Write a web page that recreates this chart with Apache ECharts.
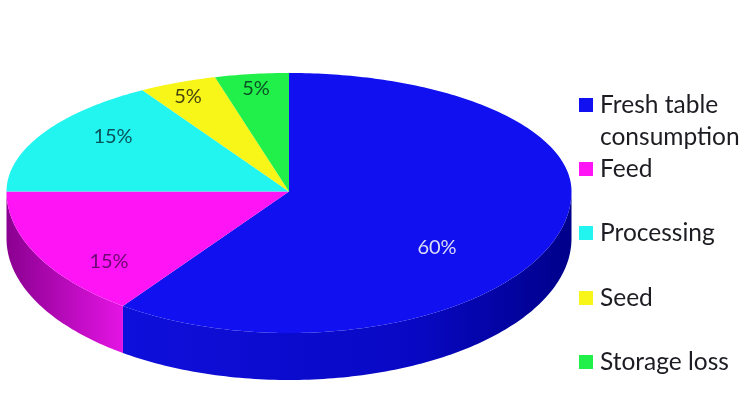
<!DOCTYPE html>
<html>
<head>
<meta charset="utf-8">
<style>html,body{margin:0;padding:0;background:#fff}#c{width:748px;height:420px}</style>
<script src="https://cdn.jsdelivr.net/npm/echarts@6/dist/echarts.min.js"></script>
</head>
<body>
<div id="c"></div>
<script>
const categories = ['Fresh table\nconsumption', 'Feed', 'Processing', 'Seed', 'Storage loss'];
const shares = [60, 15, 15, 5, 5];

const colors = ['#1010f0', '#ff14f5', '#22f5ef', '#f8f518', '#22f04a'];
const labelColors = ['#dcdcf6', '#6a0a72', '#0a525a', '#47470f', '#0a5224'];
const labelSpots = [[437, 248], [109, 262], [113, 137], [188, 97], [256, 89]];
const wallStops = [
  [[0, '#0f0fdc'], [0.65, '#0808c4'], [1, '#00008a']],
  [[0, '#8a0090'], [1, '#e414e4']],
  null, null, null
];
const legendCentres = [105, 169, 233, 298, 362];

const CX = 289, CY = 191.5, RX = 282.5, RY_UP = 118.5, RY_DOWN = 141.5, DEPTH = 47, FORESHORTEN = 0.835;
const total = shares.reduce((a, b) => a + b, 0);

function rimPoint(deg, drop) {
  const t = deg * Math.PI / 180;
  const c = Math.cos(t);
  const phi = c > 0 ? Math.atan2(FORESHORTEN * Math.sin(t), c) : t;
  const cp = Math.cos(phi);
  return [CX + RX * Math.sin(phi), CY - (cp > 0 ? RY_UP : RY_DOWN) * cp + drop];
}
function arc(a, b, drop) {
  const out = [];
  const n = Math.max(2, Math.ceil(Math.abs(b - a)));
  for (let i = 0; i <= n; i++) out.push(rimPoint(a + (b - a) * i / n, drop));
  return out;
}
function renderSlice(index) {
  return function (params, api) {
    const before = shares.slice(0, index).reduce((a, b) => a + b, 0);
    const start = before / total * 360;
    const end = start + api.value(0) / total * 360;
    const children = [];
    const wallFrom = Math.max(start, 90), wallTo = Math.min(end, 270);
    if (wallTo > wallFrom && wallStops[index]) {
      const top = arc(wallFrom, wallTo, 0);
      const bottom = arc(wallTo, wallFrom, DEPTH);
      children.push({
        type: 'polygon', silent: true,
        shape: { points: top.concat(bottom) },
        style: {
          fill: new echarts.graphic.LinearGradient(0, 0, 1, 0,
            wallStops[index].map(s => ({ offset: s[0], color: s[1] })))
        }
      });
    }
    children.push({
      type: 'polygon', silent: true,
      shape: { points: [[CX, CY]].concat(arc(start, end, 0)) },
      style: { fill: colors[index] }
    });
    children.push({
      type: 'text', silent: true,
      style: {
        text: api.value(0) + '%',
        x: labelSpots[index][0], y: labelSpots[index][1],
        align: 'center', verticalAlign: 'middle',
        fontFamily: 'Lato', fontSize: 20,
        fill: labelColors[index]
      }
    });
    return { type: 'group', children };
  };
}

const chart = echarts.init(document.getElementById('c'), null, { renderer: 'canvas' });
chart.setOption({
  animation: false,
  backgroundColor: '#ffffff',
  legend: categories.map((name, i) => ({
    data: [name],
    orient: 'vertical',
    left: 579,
    top: i === 0 ? legendCentres[i] - 48 : legendCentres[i] - 16,
    padding: 0,
    itemWidth: 14,
    itemHeight: 14,
    itemGap: 0,
    icon: 'rect',
    selectedMode: false,
    formatter: n => (n.indexOf('\n') >= 0 ? ' \n' + n : n),
    textStyle: {
      fontFamily: 'Lato', fontSize: 24.5, color: '#1c1c22', lineHeight: 32,
      padding: [0, 0, 0, 2]
    }
  })),
  series: categories.map((name, i) => ({
    type: 'custom',
    name,
    coordinateSystem: 'none',
    silent: true,
    itemStyle: { color: colors[i] },
    renderItem: renderSlice(i),
    data: [[shares[i]]]
  }))
});
</script>
</body>
</html>
